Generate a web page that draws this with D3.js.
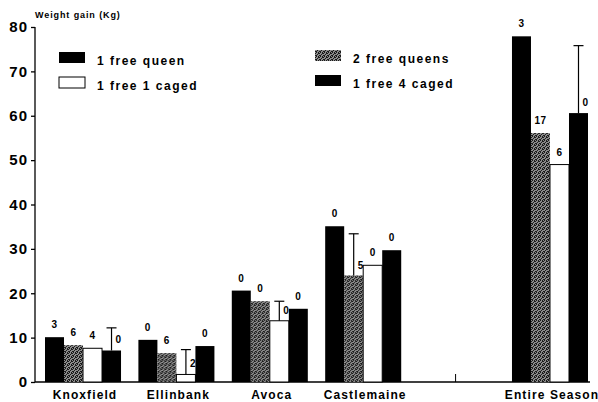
<!DOCTYPE html>
<html>
<head>
<meta charset="utf-8">
<script src="https://cdn.jsdelivr.net/npm/d3@7"></script>
<style>
  body { margin: 0; background: #fff; }
  text { font-family: "Liberation Sans", Arial, sans-serif; font-weight: bold; fill: #000; }
</style>
</head>
<body>
<svg id="chart"></svg>
<script>
const WIDTH = 598;
const HEIGHT = 402;

// data
const categories = ["Knoxfield", "Ellinbank", "Avoca", "Castlemaine", "Entire Season"];
const seriesNames = ["1 free queen", "2 free queens", "1 free 1 caged", "1 free 4 caged"];
const freeQueen = [10.1, 9.5, 20.6, 35.1, 77.9];
const twoFree = [8.3, 6.5, 18.2, 24.0, 56.1];
const oneCaged = [7.6, 1.7, 13.8, 26.3, 49.0];
const fourCaged = [7.1, 8.1, 16.5, 29.7, 60.6];
const freeQueenErr = [null, null, null, null, null];
const twoFreeErr = [null, null, null, 33.4, null];
const oneCagedErr = [null, 7.3, 18.2, null, null];
const fourCagedErr = [12.2, null, null, null, 75.8];
const freeQueenN = [3, 0, 0, 0, 3];
const twoFreeN = [6, 6, 0, 5, 17];
const oneCagedN = [4, 2, 0, 0, 6];
const fourCagedN = [0, 0, 0, 0, 0];
const yTicks = [0, 10, 20, 30, 40, 50, 60, 70, 80];

const values = [freeQueen, twoFree, oneCaged, fourCaged];
const errs = [freeQueenErr, twoFreeErr, oneCagedErr, fourCagedErr];
const counts = [freeQueenN, twoFreeN, oneCagedN, fourCagedN];

function fillFor(i){
    switch(i){
        case 0: return "#000";
        case 1: return "url(#hatch)";
        case 2: return "#fff";
        default: return "#000";
    }
}

// one empty slot between the sites and the season total
const slots = ["Knoxfield", "Ellinbank", "Avoca", "Castlemaine", "gap", "Entire Season"];

const svg = d3.select("#chart").attr("width", WIDTH).attr("height", HEIGHT);

// stippled grey fill for "2 free queens"
const defs = svg.append("defs");
const pat = defs.append("pattern")
    .attr("id", "hatch")
    .attr("patternUnits", "userSpaceOnUse")
    .attr("width", 4).attr("height", 4);
pat.append("rect").attr("width", 4).attr("height", 4).attr("fill", "#8c8c8c");
[[0, 0], [2, 1], [1, 2], [3, 3], [0, 3], [2, 0], [3, 1]].forEach(([px, py]) => {
    pat.append("rect").attr("x", px).attr("y", py).attr("width", 1).attr("height", 1).attr("fill", "#1a1a1a");
});

const x = d3.scaleBand().domain(slots).range([45, 588]).paddingInner(0.186).paddingOuter(0);
const xs = d3.scaleBand().domain(d3.range(4)).range([0, x.bandwidth()]);
const y = d3.scaleLinear().domain([0, 80]).range([382, 27]);

// y axis
const yAxis = d3.axisLeft(y).tickValues(yTicks).tickSize(4).tickFormat(d3.format("d"));
const gy = svg.append("g").attr("transform", "translate(35,0)").call(yAxis);
gy.select(".domain").attr("d", "M0," + y(80) + "V" + y(0)).attr("stroke", "#000").attr("stroke-width", 1.3);
gy.selectAll(".tick line").attr("stroke", "#000").attr("stroke-width", 1.3);
gy.selectAll(".tick text")
    .attr("x", -7)
    .style("font-size", "15px")
    .style("font-family", "'Liberation Sans', Arial, sans-serif")
    .style("font-weight", "bold")
    .style("letter-spacing", "1px");

svg.append("text")
    .attr("x", 35).attr("y", 18)
    .style("font-size", "9px")
    .style("letter-spacing", "0.9px")
    .text("Weight gain (Kg)");

// baseline
svg.append("line")
    .attr("x1", 35).attr("x2", 590)
    .attr("y1", y(0)).attr("y2", y(0))
    .attr("stroke", "#000").attr("stroke-width", 1.3);
svg.append("line")
    .attr("x1", (x("gap") + x.bandwidth() / 2) - 1).attr("x2", (x("gap") + x.bandwidth() / 2) - 1)
    .attr("y1", y(0)).attr("y2", y(0) - 8)
    .attr("stroke", "#000").attr("stroke-width", 1);

// bars
const groups = svg.selectAll("g.site")
    .data(categories)
    .enter().append("g")
    .attr("class", "site")
    .attr("transform", d => "translate(" + x(d) + ",0)");

groups.each(function(cat, ci){
    const g = d3.select(this);
    for (let si = 0; si < 4; si++){
        const v = values[si][ci];
        const bx = xs(si);
        const bw = xs.bandwidth();
        g.append("rect")
            .attr("x", bx).attr("y", y(v))
            .attr("width", bw).attr("height", y(0) - y(v))
            .attr("fill", fillFor(si))
            .attr("stroke", si == 2 ? "#000" : "none")
            .attr("stroke-width", 1);
        const e = errs[si][ci];
        const cx = bx + bw / 2;
        if (e != null){
            g.append("line")
                .attr("x1", cx).attr("x2", cx)
                .attr("y1", y(v)).attr("y2", y(e))
                .attr("stroke", "#000").attr("stroke-width", 1.2);
            g.append("line")
                .attr("x1", cx - 5).attr("x2", cx + 5)
                .attr("y1", y(e)).attr("y2", y(e))
                .attr("stroke", "#000").attr("stroke-width", 1.2);
            g.append("text")
                .attr("x", cx + 4).attr("y", y(v) - 7)
                .style("font-size", "10px")
                .text(counts[si][ci]);
        } else {
            g.append("text")
                .attr("x", cx).attr("y", y(v) - 9)
                .attr("text-anchor", "middle")
                .style("font-size", "10px")
                .style("letter-spacing", "0.5px")
                .text(counts[si][ci]);
        }
    }
    g.append("text")
        .attr("x", x.bandwidth() / 2 + 2).attr("y", 399)
        .attr("text-anchor", "middle")
        .style("font-size", "12px")
        .style("letter-spacing", "1.1px")
        .text(cat);
});

// legend
const legendPos = [[59, 52], [315, 50], [59, 77], [315, 75]];
seriesNames.forEach((name, i) => {
    const [lx, ly] = legendPos[i];
    svg.append("rect")
        .attr("x", lx).attr("y", ly)
        .attr("width", 26).attr("height", 11)
        .attr("fill", fillFor(i))
        .attr("stroke", i == 2 ? "#000" : "none");
    svg.append("text")
        .attr("x", lx + 38).attr("y", ly + 13)
        .style("font-size", "12px")
        .style("letter-spacing", "1.5px")
        .text(name);
});
</script>
</body>
</html>
